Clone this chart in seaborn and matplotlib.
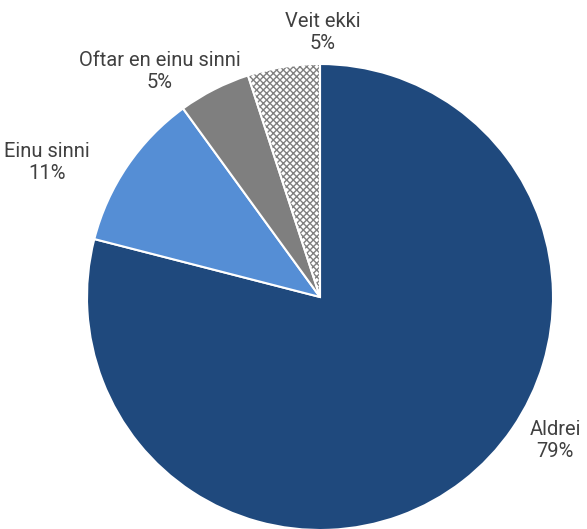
import matplotlib
matplotlib.use("Agg")
import matplotlib.pyplot as plt
import matplotlib.patches as mpatches
import seaborn as sns

sns.set_style("white")
plt.rcParams['font.family'] = ['Roboto', 'DejaVu Sans']
plt.rcParams['hatch.linewidth'] = 1.0

categories = ["Aldrei", "Einu sinni", "Oftar en einu sinni", "Veit ekki"]
values = [79, 11, 5, 5]
colors = ["#1F497D", "#558ED5", "#7F7F7F", "#FFFFFF"]
label_pos = [(1.009, -0.614), (-1.172, 0.579), (-0.687, 0.966), (0.013, 1.137)]

fig = plt.figure(figsize=(5.87, 5.29), dpi=100)
ax = fig.add_axes([87/587, -1/529, 466/587, 466/529])
wedges, _ = ax.pie(values, colors=colors, startangle=90, counterclock=False,
                   radius=1, wedgeprops=dict(edgecolor="white", linewidth=1.5))
wedges[3].set_hatch("xxxxx")
wedges[3].set_edgecolor("#808080")
wedges[3].set_linewidth(0)
w = wedges[3]
ax.add_patch(mpatches.Wedge(w.center, w.r, w.theta1, w.theta2, fill=False,
                            edgecolor="white", linewidth=1.5))

for cat, v, (x, y) in zip(categories, values, label_pos):
    ax.text(x, y, f"{cat}\n{v}%", ha="center", va="center", fontsize=14.5,
            color="#404040", linespacing=1.2)

ax.set_xlim(-1, 1)
ax.set_ylim(-1, 1)
ax.set_aspect("equal")
ax.axis("off")
fig.savefig("out.png", dpi=100)
